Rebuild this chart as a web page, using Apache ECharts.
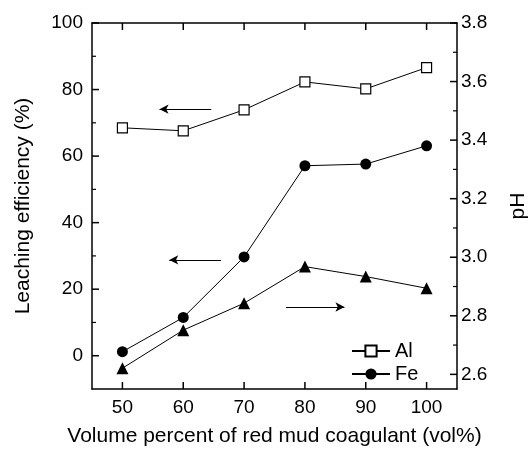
<!DOCTYPE html>
<html>
<head>
<meta charset="utf-8">
<script src="https://cdn.jsdelivr.net/npm/echarts@6/dist/echarts.min.js"></script>
<style>
html,body{margin:0;padding:0;background:#fff;}
#chart{width:530px;height:452px;}
</style>
</head>
<body>
<div id="chart"></div>
<script>
// ---- data ----
const categories = [50, 60, 70, 80, 90, 100];
const alValues = [68.5, 67.6, 73.9, 82.3, 80.2, 86.6];
const feValues = [1.2, 11.5, 29.7, 57.1, 57.6, 63.1];
const phValues = [2.621, 2.751, 2.843, 2.968, 2.934, 2.894];
const xTickValues = [50, 60, 70, 80, 90, 100];
const leftTickValues = [0, 20, 40, 60, 80, 100];
const leftMinorValues = [10, 30, 50, 70, 90];
const rightTickValues = [2.6, 2.8, 3.0, 3.2, 3.4, 3.6, 3.8];
const rightMinorValues = [2.7, 2.9, 3.1, 3.3, 3.5, 3.7];
// axis ranges
const xRange = [45, 105];
const leftRange = [-10, 100];
const rightRange = [2.55, 3.8];
// annotation arrows (in data coordinates): [x0, y0, x1, y1]
const alArrow = [64.6, 74.1, 56.1, 74.1];
const feArrow = [66.2, 28.8, 57.7, 28.8];
const phArrow = [76.9, 2.830, 86.5, 2.830];

const FONT = 'Liberation Sans, Arial, Helvetica, sans-serif';
const black = '#000';

function pairs(vals) { return categories.map((c, i) => [c, vals[i]]); }
function arrow(a) {
  return {
    silent: true, animation: false, symbol: ['none', 'arrow'], symbolSize: [7, 9],
    label: { show: false },
    lineStyle: { color: black, width: 1, type: 'solid' },
    emphasis: { disabled: true },
    data: [[{ coord: [a[0], a[1]] }, { coord: [a[2], a[3]] }]]
  };
}
// inward tick marks drawn through the axes' own scales
function tickSeries(points, yAxisIndex, dx, dy, width) {
  return {
    type: 'custom', silent: true, clip: false, z: 6,
    xAxisIndex: 0, yAxisIndex: yAxisIndex,
    data: points,
    renderItem: function (params, api) {
      const p = api.coord([api.value(0), api.value(1)]);
      return {
        type: 'line',
        shape: { x1: p[0], y1: p[1], x2: p[0] + dx, y2: p[1] + dy },
        style: { stroke: black, lineWidth: width }
      };
    }
  };
}

const axisLine = { show: true, onZero: false, lineStyle: { color: black, width: 1.5 } };
const labelStyle = { color: black, fontSize: 19, fontFamily: FONT };
const noTick = { show: false };

const chart = echarts.init(document.getElementById('chart'), null, { renderer: 'canvas' });
chart.setOption({
  animation: false,
  backgroundColor: '#fff',
  textStyle: { fontFamily: FONT },
  grid: { left: 92, right: 73, top: 23, bottom: 63, containLabel: false, outerBoundsMode: 'none' },
  legend: {
    data: ['Al', 'Fe'],
    orient: 'vertical',
    left: 346, top: 336,
    itemWidth: 38, itemHeight: 14, itemGap: 3,
    textStyle: { color: black, fontSize: 20, fontFamily: FONT },
    selectedMode: false
  },
  xAxis: [
    {
      type: 'value', min: xRange[0], max: xRange[1], position: 'bottom',
      axisLine: axisLine, axisTick: noTick,
      axisLabel: Object.assign({ margin: 9, customValues: xTickValues }, labelStyle),
      splitLine: { show: false },
      name: 'Volume percent of red mud coagulant (vol%)',
      nameLocation: 'middle', nameGap: 37,
      nameTextStyle: { color: black, fontSize: 21, fontFamily: FONT }
    },
    {
      type: 'value', min: xRange[0], max: xRange[1], position: 'top',
      axisLine: axisLine, axisTick: noTick,
      axisLabel: { show: false },
      splitLine: { show: false }
    }
  ],
  yAxis: [
    {
      type: 'value', min: leftRange[0], max: leftRange[1], position: 'left',
      axisLine: axisLine, axisTick: noTick,
      axisLabel: Object.assign({ margin: 9, customValues: leftTickValues }, labelStyle),
      splitLine: { show: false },
      name: 'Leaching efficiency (%)',
      nameLocation: 'middle', nameGap: 58, nameRotate: 90,
      nameTextStyle: { color: black, fontSize: 21, fontFamily: FONT }
    },
    {
      type: 'value', min: rightRange[0], max: rightRange[1], position: 'right',
      axisLine: axisLine, axisTick: noTick,
      axisLabel: Object.assign({ margin: 4, customValues: rightTickValues, formatter: v => Number(v).toFixed(1) }, labelStyle),
      splitLine: { show: false },
      name: 'pH',
      nameLocation: 'middle', nameGap: 51, nameRotate: 90,
      nameTextStyle: { color: black, fontSize: 21, fontFamily: FONT }
    }
  ],
  series: [
    {
      name: 'Al', type: 'line', xAxisIndex: 0, yAxisIndex: 0,
      data: pairs(alValues),
      symbol: 'rect', symbolSize: 10,
      itemStyle: { color: '#fff', borderColor: black, borderWidth: 1.2 },
      lineStyle: { color: black, width: 1 },
      z: 3,
      markLine: arrow(alArrow)
    },
    {
      name: 'Fe', type: 'line', xAxisIndex: 0, yAxisIndex: 0,
      data: pairs(feValues),
      symbol: 'circle', symbolSize: 11,
      itemStyle: { color: black, borderColor: black, borderWidth: 0 },
      lineStyle: { color: black, width: 1 },
      z: 3,
      markLine: arrow(feArrow)
    },
    {
      name: 'pH', type: 'line', xAxisIndex: 0, yAxisIndex: 1,
      data: pairs(phValues),
      symbol: 'triangle', symbolSize: 12,
      itemStyle: { color: black, borderColor: black, borderWidth: 0 },
      lineStyle: { color: black, width: 1 },
      z: 3,
      markLine: arrow(phArrow)
    },
    tickSeries(xTickValues.map(v => [v, leftRange[0]]), 0, 0, -7, 1.5),
    tickSeries(xTickValues.map(v => [v, leftRange[1]]), 0, 0, 7, 1.5),
    tickSeries(leftTickValues.map(v => [xRange[0], v]), 0, 7, 0, 1.5),
    tickSeries(leftMinorValues.map(v => [xRange[0], v]), 0, 4, 0, 1.2),
    tickSeries(rightTickValues.map(v => [xRange[1], v]), 1, -7, 0, 1.5),
    tickSeries(rightMinorValues.map(v => [xRange[1], v]), 1, -4, 0, 1.2)
  ]
});
</script>
</body>
</html>
